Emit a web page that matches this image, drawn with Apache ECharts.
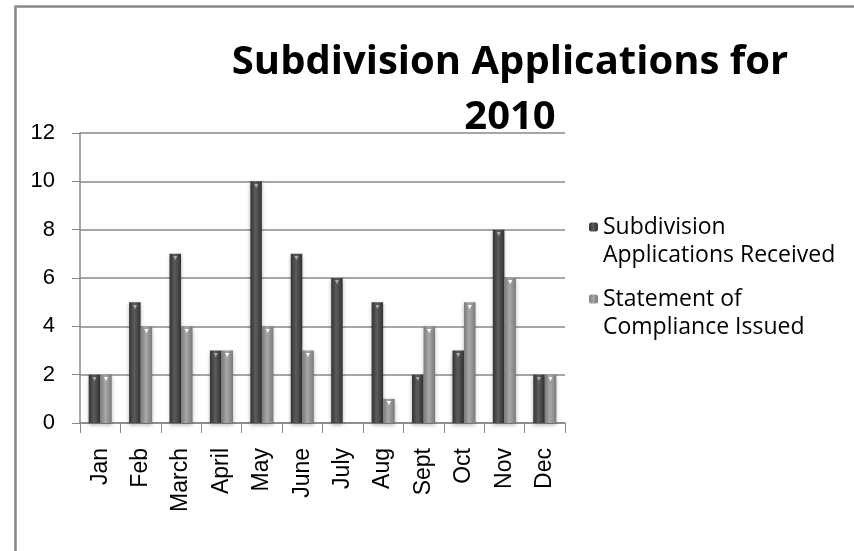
<!DOCTYPE html>
<html>
<head>
<meta charset="utf-8">
<script src="https://cdn.jsdelivr.net/npm/echarts@6/dist/echarts.min.js"></script>
<style>
html,body{margin:0;padding:0;background:#fff;}
#chart{width:854px;height:551px;}
</style>
</head>
<body>
<div id="chart"></div>
<script>
const categories = ['Jan','Feb','March','April','May','June','July','Aug','Sept','Oct','Nov','Dec'];
const received = [2,5,7,3,10,7,6,5,2,3,8,2];
const compliance = [2,4,4,3,4,3,0,1,4,5,6,2];
const seriesNames = ['Subdivision Applications Received','Statement of Compliance Issued'];
const legendLabels = {
  'Subdivision Applications Received': ' \nSubdivision\nApplications Received',
  'Statement of Compliance Issued': ' \nStatement of\nCompliance Issued'
};
const yTicks = {min:0, max:12, interval:2};

const chart = echarts.init(document.getElementById('chart'));

function grad(edge, mid){
  return new echarts.graphic.LinearGradient(0,0,1,0,[
    {offset:0,color:edge},{offset:0.45,color:mid},{offset:1,color:edge}
  ]);
}
function mkData(arr){
  return arr.map(v => ({value:v, label:{show: v>0}}));
}
const labelTri = (c) => ({
  show:true, position:'insideTop', distance:1, formatter:'▼', fontSize:7, color:c
});

chart.setOption({
  animation:false,
  backgroundColor:'#fff',
  graphic:[{
    type:'rect', left:13, top:4, shape:{width:900, height:600},
    style:{fill:'none', stroke:'#888', lineWidth:2.5}, z:-1
  }],
  title:{
    text:'Subdivision Applications for\n2010',
    left:505, top:30, textAlign:'center',
    textStyle:{fontFamily:'Open Sans', fontWeight:'bold', fontSize:40, lineHeight:55, color:'#000'}
  },
  legend:{
    orient:'vertical', left:584, top:180,
    itemWidth:9, itemHeight:9, itemGap:-12, itemTextGap:14,
    data:seriesNames,
    formatter: n => legendLabels[n],
    textStyle:{fontFamily:'Open Sans', fontSize:23, lineHeight:28, color:'#000'}
  },
  grid:{left:80, right:289, top:133, bottom:128},
  xAxis:{
    type:'category', data:categories,
    axisLine:{lineStyle:{color:'#888', width:1.5}},
    axisTick:{show:true, length:10, lineStyle:{color:'#888'}},
    axisLabel:{rotate:90, margin:25, fontFamily:'Liberation Sans', fontSize:23, color:'#000'}
  },
  yAxis:{
    type:'value', min:yTicks.min, max:yTicks.max, interval:yTicks.interval,
    axisLine:{show:true, lineStyle:{color:'#888', width:1.5}},
    axisTick:{show:true, length:8, lineStyle:{color:'#888'}},
    splitLine:{lineStyle:{color:'#888', width:1.5}},
    axisLabel:{margin:25, fontFamily:'Liberation Sans', fontSize:22, color:'#000'}
  },
  series:[
    {
      name:seriesNames[0], type:'bar', data:mkData(received),
      barGap:'0%', barCategoryGap:'43%',
      itemStyle:{color:grad('#333','#5c5c5c'), shadowColor:'rgba(0,0,0,0.3)', shadowBlur:4, shadowOffsetY:2},
      label:labelTri('#aaa')
    },
    {
      name:seriesNames[1], type:'bar', data:mkData(compliance),
      barGap:'0%', barCategoryGap:'43%',
      itemStyle:{color:grad('#7a7a7a','#a8a8a8'), shadowColor:'rgba(0,0,0,0.3)', shadowBlur:4, shadowOffsetY:2},
      label:labelTri('#fff')
    }
  ]
});
</script>
</body>
</html>
